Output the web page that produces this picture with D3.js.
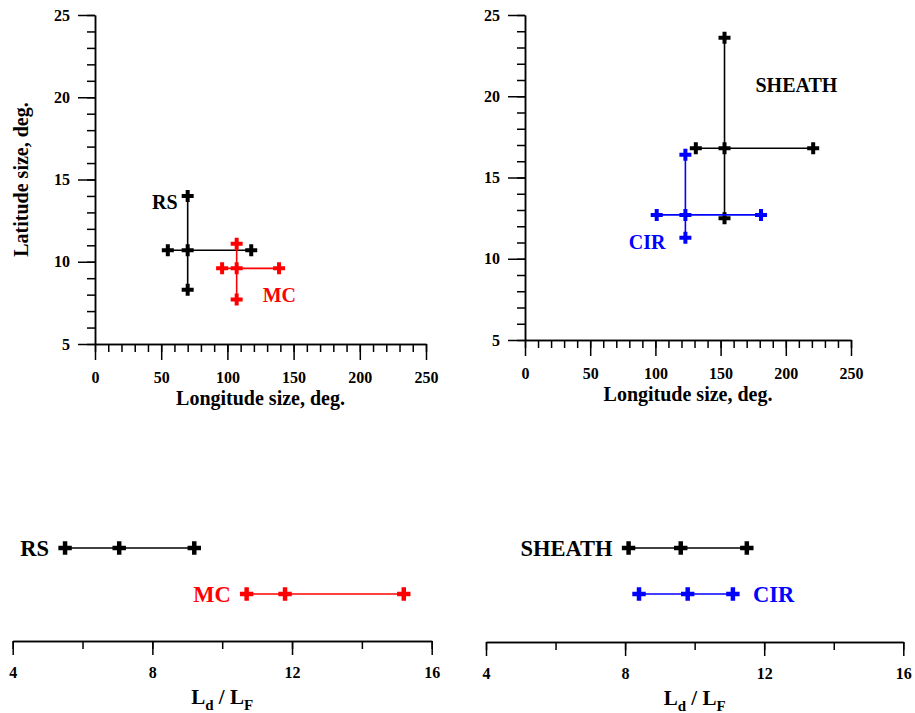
<!DOCTYPE html>
<html>
<head>
<meta charset="utf-8">
<script src="https://cdn.jsdelivr.net/npm/d3@7"></script>
<style>
  body { margin: 0; background: #fff; }
  svg { display: block; }
  text { font-family: "Liberation Serif", "Times New Roman", serif; font-weight: bold; }
</style>
</head>
<body>
<svg width="915" height="713"></svg>
<script>
// size extents: [low, median, high]
var rsLon = [55, 70, 118],      rsLat = [8.3, 10.7, 14.0];
var mcLon = [96, 107, 139],     mcLat = [7.7, 9.6, 11.1];
var sheathLon = [131, 153, 221], sheathLat = [12.5, 16.8, 23.6];
var cirLon = [101, 123, 181],   cirLat = [11.3, 12.7, 16.4];

// Ld / LF ratio: [low, median, high]
var rsRatio = [5.5, 7.05, 9.2];
var mcRatio = [10.7, 11.8, 15.2];
var sheathRatio = [8.1, 9.6, 11.5];
var cirRatio = [8.4, 9.8, 11.1];

var lonTicks = [0, 50, 100, 150, 200, 250];
var latTicks = [5, 10, 15, 20, 25];
var ratioTicks = [4, 8, 12, 16];

var svg = d3.select("svg");
var cross = d3.symbol().type(d3.symbolCross);

function styleAxis(g) {
  g.attr("font-family", null).attr("font-size", null);
  g.selectAll("path, line").attr("stroke", "#000").attr("stroke-width", 1.5);
  g.selectAll("text").attr("font-size", 16).attr("fill", "#000");
}

// top panels: latitude size vs longitude size
function sizePanel(xr, yr, series, yTitle) {
  var x = d3.scaleLinear().domain([0, 250]).range(xr);
  var y = d3.scaleLinear().domain([5, 25]).range(yr);
  var g = svg.append("g");

  g.append("g").attr("transform", "translate(0," + yr[0] + ")")
      .call(d3.axisBottom(x).tickValues(d3.range(0, 251, 10)).tickSize(8).tickSizeOuter(0).tickFormat(""))
      .call(styleAxis);
  g.append("g").attr("transform", "translate(0," + yr[0] + ")")
      .call(d3.axisBottom(x).tickValues(lonTicks).tickSize(16).tickSizeOuter(0).tickPadding(12))
      .call(styleAxis);
  g.append("g").attr("transform", "translate(" + xr[0] + ",0)")
      .call(d3.axisLeft(y).tickValues(d3.range(5, 25.1, 1)).tickSize(8).tickSizeOuter(0).tickFormat(""))
      .call(styleAxis);
  g.append("g").attr("transform", "translate(" + xr[0] + ",0)")
      .call(d3.axisLeft(y).tickValues(latTicks).tickSize(17).tickSizeOuter(0).tickPadding(8))
      .call(styleAxis);

  g.append("text")
      .attr("x", (xr[0] + xr[1]) / 2).attr("y", yr[0] + 61)
      .attr("text-anchor", "middle").attr("font-size", 20)
      .text("Longitude size, deg.");
  if (yTitle) {
    g.append("text")
        .attr("transform", "translate(28," + (yr[0] + yr[1]) / 2 + ") rotate(-90)")
        .attr("text-anchor", "middle").attr("font-size", 20)
        .text("Latitude size, deg.");
  }

  series.forEach(function(s) {
    var c = g.append("g");
    c.append("line")
        .attr("x1", x(s.lon[0])).attr("x2", x(s.lon[2]))
        .attr("y1", y(s.lat[1])).attr("y2", y(s.lat[1]))
        .attr("stroke", s.color).attr("stroke-width", 1.6);
    c.append("line")
        .attr("x1", x(s.lon[1])).attr("x2", x(s.lon[1]))
        .attr("y1", y(s.lat[0])).attr("y2", y(s.lat[2]))
        .attr("stroke", s.color).attr("stroke-width", 1.6);
    var pts = [[s.lon[0], s.lat[1]], [s.lon[1], s.lat[1]], [s.lon[2], s.lat[1]],
               [s.lon[1], s.lat[0]], [s.lon[1], s.lat[2]]];
    c.selectAll("path").data(pts).join("path")
        .attr("transform", function(d) { return "translate(" + x(d[0]) + "," + y(d[1]) + ")"; })
        .attr("d", cross.size(80))
        .attr("fill", s.color);
    c.append("text")
        .attr("x", x(s.lon[s.lab[0]]) + s.lab[1])
        .attr("y", y(s.lat[s.lab[2]]) + s.lab[3])
        .attr("text-anchor", s.lab[4])
        .attr("font-size", 20).attr("fill", s.color)
        .text(s.name);
  });
}

// bottom panels: Ld / LF ranges
function ratioPanel(xr, axisY, series) {
  var x = d3.scaleLinear().domain([4, 16]).range(xr);
  var g = svg.append("g");
  g.append("g").attr("transform", "translate(0," + axisY + ")")
      .call(d3.axisBottom(x).tickValues(d3.range(4, 16.1, 2)).tickSize(8).tickSizeOuter(0).tickFormat(""))
      .call(styleAxis);
  g.append("g").attr("transform", "translate(0," + axisY + ")")
      .call(d3.axisBottom(x).tickValues(ratioTicks).tickSize(14).tickSizeOuter(0).tickPadding(12))
      .call(styleAxis);

  var t = g.append("text")
      .attr("x", (xr[0] + xr[1]) / 2).attr("y", axisY + 63)
      .attr("text-anchor", "middle").attr("font-size", 21);
  t.append("tspan").text("L");
  t.append("tspan").attr("dy", 6).attr("font-size", 15).text("d");
  t.append("tspan").attr("dy", -6).text(" / L");
  t.append("tspan").attr("dy", 6).attr("font-size", 15).text("F");

  series.forEach(function(s) {
    var c = g.append("g");
    c.append("line")
        .attr("x1", x(s.r[0])).attr("x2", x(s.r[2]))
        .attr("y1", s.y).attr("y2", s.y)
        .attr("stroke", s.color).attr("stroke-width", 1.6);
    c.selectAll("path").data(s.r).join("path")
        .attr("transform", function(d) { return "translate(" + x(d) + "," + s.y + ")"; })
        .attr("d", cross.size(100))
        .attr("fill", s.color);
    var left = s.anchor === "end";
    c.append("text")
        .attr("x", left ? x(s.r[0]) - 16 : x(s.r[2]) + 20)
        .attr("y", s.y + 8)
        .attr("text-anchor", s.anchor)
        .attr("font-size", 22.5).attr("fill", s.color)
        .text(s.name);
  });
}

// lab: [lon index, dx, lat index, dy, anchor]
sizePanel([95, 426], [344, 15], [
  {name: "RS", lon: rsLon, lat: rsLat, color: "#000", lab: [1, -10, 2, 13, "end"]},
  {name: "MC", lon: mcLon, lat: mcLat, color: "#ff0000", lab: [1, 26, 0, 2, "start"]}
], true);
sizePanel([525, 851], [340, 15], [
  {name: "SHEATH", lon: sheathLon, lat: sheathLat, color: "#000", lab: [1, 31, 2, 54, "start"]},
  {name: "CIR", lon: cirLon, lat: cirLat, color: "#0000ff", lab: [1, -20, 0, 11, "end"]}
], false);

ratioPanel([12.7, 431.7], 641, [
  {name: "RS", r: rsRatio, y: 548, color: "#000", anchor: "end"},
  {name: "MC", r: mcRatio, y: 594, color: "#ff0000", anchor: "end"}
]);
ratioPanel([486, 903.3], 642, [
  {name: "SHEATH", r: sheathRatio, y: 548, color: "#000", anchor: "end"},
  {name: "CIR", r: cirRatio, y: 594, color: "#0000ff", anchor: "start"}
]);
</script>
</body>
</html>
